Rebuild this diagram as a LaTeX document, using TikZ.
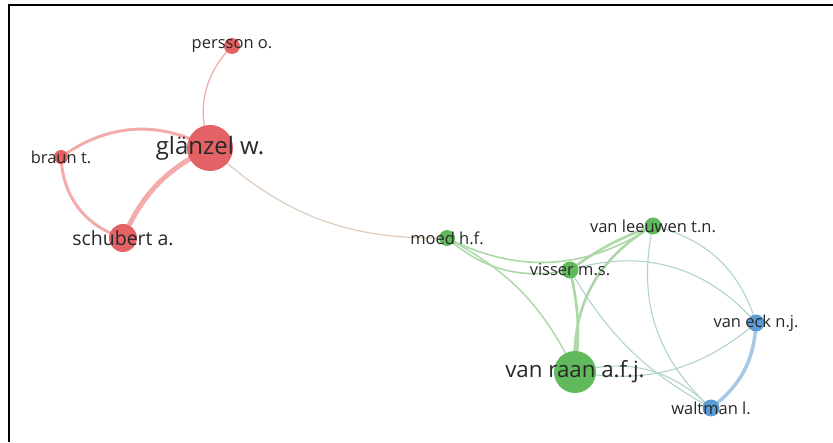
\documentclass[tikz,border=0pt]{standalone}
\usepackage{fontspec}
\setmainfont{Open Sans}
\usetikzlibrary{backgrounds}
\definecolor{rnode}{RGB}{228,98,102}
\definecolor{gnode}{RGB}{96,186,92}
\definecolor{bnode}{RGB}{92,156,214}
\definecolor{redge}{RGB}{243,172,172}
\definecolor{gedge}{RGB}{172,216,166}
\definecolor{bedge}{RGB}{168,200,234}
\definecolor{xedge}{RGB}{176,212,200}
\definecolor{rgedge}{RGB}{222,204,188}
\definecolor{lbltext}{RGB}{40,40,40}
\tikzset{
  x=1pt, y=1pt,
  dot/.style={circle, inner sep=0pt, draw=none},
  rdot/.style={dot, fill=rnode},
  gdot/.style={dot, fill=gnode},
  bdot/.style={dot, fill=bnode},
  lbl/.style={inner sep=0pt, text=lbltext, font=\fontsize{16.5}{16.5}\selectfont},
  glzlbl/.style={lbl, font=\fontsize{24}{24}\selectfont},
  vrlbl/.style={lbl, font=\fontsize{22.3}{22.3}\selectfont},
  midlbl/.style={lbl, font=\fontsize{19.5}{19.5}\selectfont},
  ed/.style={line cap=round},
}
\begin{document}
\begin{tikzpicture}
\useasboundingbox (0,0) rectangle (833,442);
% frame
\draw[line width=2pt, black] (8.5,0) -- (8.5,436.5) -- (833,436.5);
% nodes
\node[rdot, minimum size=16pt] (persson) at (232,396) {};
\node[rdot, minimum size=46pt] (glanzel) at (210,294) {};
\node[rdot, minimum size=14pt] (braun) at (61,285) {};
\node[rdot, minimum size=28pt] (schubert) at (123,204) {};
\node[gdot, minimum size=16pt] (moed) at (447,204) {};
\node[gdot, minimum size=17pt] (leeuwen) at (653,216) {};
\node[gdot, minimum size=17pt] (visser) at (570,172) {};
\node[bdot, minimum size=17pt] (vaneck) at (756,119) {};
\node[gdot, minimum size=42pt] (vanraan) at (575,70) {};
\node[bdot, minimum size=17pt] (waltman) at (711,34) {};
% edges
\begin{scope}[on background layer]
\draw[ed, redge, line width=1.3pt] (glanzel.center) to[bend left=32] (persson.center);
\draw[ed, redge, line width=3pt] (braun.center) to[bend left=32] (glanzel.center);
\draw[ed, redge, line width=3pt] (braun.center) to[bend right=35] (schubert.center);
\draw[ed, redge, line width=5pt] (schubert.center) to[bend left=20] (glanzel.center);
\draw[ed, rgedge, line width=1.2pt] (glanzel.center) to[bend right=22] (moed.center);
\draw[ed, gedge, line width=1.6pt] (moed.center) to[bend right=26] (visser.center);
\draw[ed, gedge, line width=1.6pt] (moed.center) to[bend right=30] (leeuwen.center);
\draw[ed, gedge, line width=1.4pt] (moed.center) to[bend left=18] (vanraan.center);
\draw[ed, gedge, line width=2.6pt] (leeuwen.center) to[bend right=8] (visser.center);
\draw[ed, gedge, line width=2.6pt] (leeuwen.center) to[bend right=32] (vanraan.center);
\draw[ed, gedge, line width=2.6pt] (visser.center) to[bend left=10] (vanraan.center);
\draw[ed, xedge, line width=1.1pt] (visser.center) to[bend right=15] (waltman.center);
\draw[ed, xedge, line width=1.1pt] (visser.center) to[bend left=33] (vaneck.center);
\draw[ed, xedge, line width=1.1pt] (leeuwen.center) to[bend left=30] (vaneck.center);
\draw[ed, xedge, line width=1.1pt] (leeuwen.center) to[bend right=30] (waltman.center);
\draw[ed, xedge, line width=1.1pt] (vanraan.center) to[bend right=25] (vaneck.center);
\draw[ed, xedge, line width=1.1pt] (vanraan.center) to[bend left=30] (waltman.center);
\draw[ed, bedge, line width=3.5pt] (vaneck.center) to[bend left=25] (waltman.center);
\end{scope}
% labels
\node[lbl] at (persson) {persson o.};
\node[glzlbl] at (glanzel) {glänzel w.};
\node[lbl] at (braun) {braun t.};
\node[midlbl] at (schubert) {schubert a.};
\node[lbl] at (moed) {moed h.f.};
\node[lbl] at (leeuwen) {van leeuwen t.n.};
\node[lbl] at (visser) {visser m.s.};
\node[lbl] at (vaneck) {van eck n.j.};
\node[vrlbl] at (vanraan) {van raan a.f.j.};
\node[lbl] at (waltman) {waltman l.};
\end{tikzpicture}
\end{document}
